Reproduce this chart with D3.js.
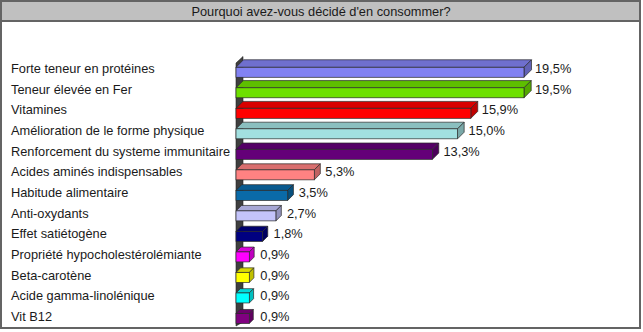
<!DOCTYPE html>
<html>
<head>
<meta charset="utf-8">
<script src="https://cdn.jsdelivr.net/npm/d3@7/dist/d3.min.js"></script>
<style>
  html, body { margin: 0; padding: 0; background: #fff; }
  svg { display: block; font-family: Arial, "Liberation Sans", sans-serif; }
</style>
</head>
<body>
<svg id="chart" width="643" height="332"></svg>
<script>
// Survey answers: reasons for consuming the product (% of respondents)
const title = "Pourquoi avez-vous décidé d'en consommer?";
const categories = [
  "Forte teneur en protéines",
  "Teneur élevée en Fer",
  "Vitamines",
  "Amélioration de le forme physique",
  "Renforcement du systeme immunitaire",
  "Acides aminés indispensables",
  "Habitude alimentaire",
  "Anti-oxydants",
  "Effet satiétogène",
  "Propriété hypocholestérolémiante",
  "Beta-carotène",
  "Acide gamma-linolénique",
  "Vit B12"
];
const values = [19.5, 19.5, 15.9, 15.0, 13.3, 5.3, 3.5, 2.7, 1.8, 0.9, 0.9, 0.9, 0.9];
const valueLabels = ["19,5%", "19,5%", "15,9%", "15,0%", "13,3%", "5,3%", "3,5%", "2,7%", "1,8%", "0,9%", "0,9%", "0,9%", "0,9%"];
const colors = [
  "#8282f2", "#6ee000", "#ff0000", "#a2e0e0", "#640078", "#ff8282", "#0a6aa8",
  "#c4c4fa", "#000080", "#ff00ff", "#ffff00", "#00ffff", "#800080"
];

const W = 643, H = 332;
const FS = 12.8;
const svg = d3.select("#chart");

// frame + title bar
svg.append("rect").attr("x", 1).attr("y", 1).attr("width", W - 4).attr("height", H - 5)
  .attr("fill", "#fff").attr("stroke", "#646464").attr("stroke-width", 2);
svg.append("rect").attr("x", 1).attr("y", 1).attr("width", W - 4).attr("height", 20)
  .attr("fill", "#c0c0c0").attr("stroke", "#646464").attr("stroke-width", 2);
svg.append("text").attr("x", 321).attr("y", 15.8).attr("text-anchor", "middle")
  .attr("font-size", FS).attr("fill", "#1a1a1a").text(title);

// scales
const x = d3.scaleLinear().domain([0, d3.max(values)]).range([236, 524]);
const y = d3.scaleBand().domain(categories).range([58.2, 326.8]);
const n = categories.length;
// perspective: depth of the 3D extrusion shrinks toward the bottom rows
const depth = i => 7.5 - 3.5 * i / (n - 1);
const frontH = 10;

// side wall behind the bars
const x0 = x(0);
svg.append("polygon")
  .attr("points", [[x0, 326], [x0, 63], [x0 + 7, 56.5], [x0 + 7, 322]].map(p => p.join(",")).join(" "))
  .attr("fill", "#3f3f3f").attr("stroke", "#222").attr("stroke-width", 0.6);

const rows = svg.append("g").selectAll("g").data(categories).join("g");

rows.each(function (c, i) {
  const g = d3.select(this);
  const d = depth(i);
  const cy = y(c) + y.bandwidth() / 2;
  const top = cy - (frontH + d) / 2 + d;   // top edge of front face
  const bot = top + frontH;
  const x1 = x(values[i]);
  const base = d3.color(colors[i]);
  const stroke = "#2a2a2a";

  // top face
  g.append("polygon")
    .attr("points", [[x0, top], [x0 + d, top - d], [x1 + d, top - d], [x1, top]].map(p => p.join(",")).join(" "))
    .attr("fill", base.darker(0.45)).attr("stroke", stroke).attr("stroke-width", 0.7);
  // end face
  g.append("polygon")
    .attr("points", [[x1, top], [x1 + d, top - d], [x1 + d, bot - d], [x1, bot]].map(p => p.join(",")).join(" "))
    .attr("fill", base.darker(0.8)).attr("stroke", stroke).attr("stroke-width", 0.7);
  // front face
  g.append("rect").attr("x", x0).attr("y", top).attr("width", x1 - x0).attr("height", frontH)
    .attr("fill", base).attr("stroke", stroke).attr("stroke-width", 0.7);

  // category label
  g.append("text").attr("x", 11).attr("y", cy + 4.5)
    .attr("font-size", FS).attr("fill", "#1a1a1a").text(c);
  // value label
  g.append("text").attr("x", x1 + 11).attr("y", cy + 4.5)
    .attr("font-size", FS).attr("fill", "#1a1a1a").text(valueLabels[i]);
});
</script>
</body>
</html>
